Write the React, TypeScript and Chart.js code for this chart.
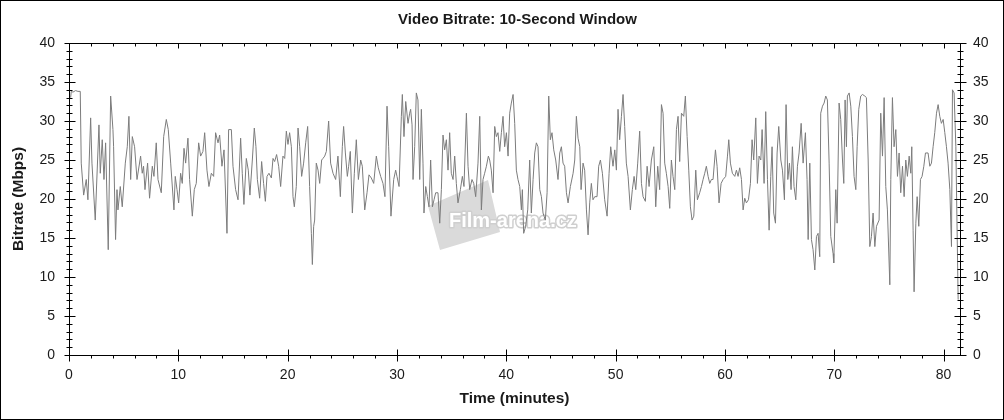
import React, { useEffect, useRef } from "react";
import { Chart, registerables } from "chart.js";

Chart.register(...registerables);

// Time (minutes) of each reading
const times: number[] = [
  0.15, 0.21, 0.36, 0.6, 0.82, 1.03, 1.12, 1.34, 1.58, 1.73, 1.98, 2.1, 2.4, 2.74, 2.86, 3.04, 3.2, 3.35, 3.59, 3.81,
  4.02, 4.08, 4.26, 4.39, 4.48, 4.69, 4.87, 5.15, 5.33, 5.48, 5.64, 5.79, 6.0, 6.22, 6.55, 6.7, 6.82, 6.95, 7.19, 7.37,
  7.62, 7.77, 7.98, 8.14, 8.44, 8.66, 8.9, 9.08, 9.3, 9.6,
  9.72, 9.88, 10.03, 10.21, 10.36, 10.52, 10.67, 10.88, 11.03, 11.28, 11.46, 11.64, 11.86, 12.04, 12.25, 12.41, 12.62,
  12.8, 13.02, 13.23, 13.41, 13.63, 13.78, 13.99, 14.18, 14.45, 14.6, 14.85, 15.0, 15.24, 15.46, 15.7, 15.85, 16.0,
  16.22, 16.4, 16.55, 16.77, 16.95, 17.1, 17.23, 17.44, 17.62, 17.8, 17.96, 18.11, 18.29, 18.51, 18.66, 18.81, 18.99,
  19.18, 19.36, 19.57,
  19.73, 19.88, 20.03, 20.18, 20.34, 20.49, 20.61, 20.79, 20.95, 21.1, 21.28, 21.46, 21.65, 21.83, 22.01, 22.17, 22.26,
  22.38, 22.47, 22.62, 22.78, 22.93, 23.11, 23.23, 23.39, 23.54, 23.75, 23.93, 24.15, 24.39, 24.6, 24.82, 25.0, 25.12,
  25.28, 25.46, 25.58, 25.73, 25.92, 26.1, 26.28, 26.47, 26.68, 26.83, 27.05, 27.26, 27.44, 27.65, 27.87, 28.11, 28.29,
  28.51, 28.72, 28.9, 29.09, 29.24, 29.45,
  29.7, 29.88, 30.0, 30.19, 30.4, 30.49, 30.64, 30.8, 31.01, 31.16, 31.25, 31.38, 31.47, 31.62, 31.77, 31.92, 32.08,
  32.23, 32.38, 32.47, 32.63, 32.78, 32.93, 33.08, 33.24, 33.39, 33.54, 33.75, 33.91, 34.06, 34.21, 34.36, 34.52, 34.67,
  34.82, 34.97, 35.13, 35.28, 35.43, 35.58, 35.8, 35.98, 36.13, 36.35, 36.5, 36.65, 36.86, 37.02, 37.2, 37.41, 37.57,
  37.72, 37.87, 38.02, 38.18, 38.36, 38.48, 38.63, 38.79, 38.94, 39.09, 39.24, 39.4, 39.55, 39.7,
  39.85, 40.01, 40.16, 40.31, 40.46, 40.62, 40.77, 40.92, 41.07, 41.23, 41.38, 41.47, 41.59, 41.77, 41.96, 42.14, 42.29,
  42.45, 42.6, 42.75, 42.9, 43.06, 43.21, 43.36, 43.57, 43.73, 43.88, 44.03, 44.18, 44.34, 44.52, 44.73, 44.89, 45.04,
  45.19, 45.34, 45.5, 45.65, 45.86, 46.11, 46.26, 46.41, 46.56, 46.72, 46.84, 47.02, 47.17, 47.33, 47.48, 47.63, 47.78,
  47.93, 48.09, 48.3, 48.45, 48.61, 48.79, 49.0, 49.22, 49.4, 49.55, 49.76,
  49.92, 50.07, 50.22, 50.37, 50.53, 50.68, 50.83, 50.98, 51.14, 51.35, 51.53, 51.69, 51.84, 52.02, 52.2, 52.36, 52.51,
  52.72, 52.88, 53.06, 53.27, 53.49, 53.67, 53.85, 54.03, 54.19, 54.34, 54.49, 54.64, 54.8, 54.95, 55.1, 55.25, 55.41,
  55.56, 55.71, 55.86, 56.02, 56.23, 56.38, 56.54, 56.69, 56.84, 56.99, 57.15, 57.33, 57.48, 57.69, 57.85, 58.0, 58.15,
  58.3, 58.46, 58.61, 58.76, 58.91, 59.13, 59.28, 59.46, 59.65, 59.83,
  60.07, 60.23, 60.35, 60.5, 60.68, 60.9, 61.05, 61.2, 61.35, 61.51, 61.66, 61.81, 61.96, 62.15, 62.33, 62.48, 62.63,
  62.82, 62.97, 63.12, 63.28, 63.4, 63.58, 63.73, 63.89, 64.04, 64.19, 64.31, 64.46, 64.62, 64.77, 64.92, 65.11, 65.26,
  65.44, 65.59, 65.75, 65.9, 66.05, 66.17, 66.32, 66.48, 66.63, 66.78, 66.97, 67.15, 67.36, 67.51, 67.61, 67.76, 67.91,
  68.06, 68.22, 68.37, 68.52, 68.67, 68.76, 68.92, 69.07, 69.22, 69.37, 69.53, 69.68, 69.89,
  69.95, 70.14, 70.26, 70.44, 70.59, 70.75, 70.87, 70.99, 71.11, 71.2, 71.36, 71.51, 71.66, 71.81, 71.97, 72.09, 72.24,
  72.42, 72.58, 72.79, 72.94, 73.1, 73.25, 73.4, 73.55, 73.71, 73.86, 74.1, 74.25, 74.41, 74.56, 74.71, 74.86, 75.08,
  75.17, 75.32, 75.47, 75.63, 75.78, 75.93, 76.08, 76.24, 76.39, 76.54, 76.69, 76.85, 77.0, 77.09, 77.21, 77.3, 77.46,
  77.58, 77.73, 77.88, 78.03, 78.19, 78.34, 78.58, 78.74, 78.89, 79.04, 79.19, 79.35, 79.5, 79.65, 79.8, 79.96, 80.11,
  80.26, 80.41, 80.57, 80.72, 80.81, 80.96, 81.12, 81.33,
];

// Video bitrate (Mbps) at each reading
const rates: number[] = [
  33.0, 33.8, 33.7, 33.9, 33.8, 33.8, 24.6, 20.5, 22.5, 19.9, 30.4, 24.6, 17.3, 29.5, 23.3, 27.6, 22.5, 27.2, 13.5, 33.2,
  28.9, 26.7, 14.8, 21.2, 18.6, 21.6, 19.0, 24.6, 26.7, 30.6, 22.5, 28.0, 26.7, 22.5, 25.5, 23.3, 24.2, 21.2, 24.6, 20.1,
  24.2, 22.9, 27.2, 22.5, 20.8, 28.0, 30.2, 28.9, 24.6, 18.6,
  22.9, 21.2, 19.5, 23.3, 22.0, 26.5, 24.6, 27.8, 22.5, 17.8, 21.2, 22.0, 27.2, 25.5, 26.1, 28.5, 23.7,
  21.6, 23.3, 22.9, 28.5, 27.2, 28.2, 24.2, 26.3, 15.6, 28.9, 28.9, 24.2, 21.2, 19.9, 27.8, 23.3, 19.3,
  25.2, 23.7, 20.5, 25.0, 29.1, 26.7, 22.5, 20.1, 24.8, 22.0, 19.7, 22.9, 23.3, 22.7, 25.2, 24.8, 25.7,
  24.2, 21.6, 25.5,
  25.2, 28.7, 27.0, 28.5, 26.7, 20.3, 19.0, 21.6, 29.1, 26.7, 22.9, 24.6, 27.2, 29.3, 21.6, 15.6, 11.6,
  16.5, 17.3, 24.6, 23.7, 22.0, 25.0, 25.2, 25.5, 26.1, 30.0, 24.6, 23.3, 22.5, 25.5, 20.3, 26.7, 29.3,
  25.9, 22.9, 24.2, 26.1, 18.2, 23.3, 27.6, 22.5, 25.0, 24.2, 18.6, 20.8, 23.1, 22.7, 22.0, 25.5, 24.0,
  22.9, 22.0, 20.3, 31.9, 26.7, 17.8,
  22.5, 23.7, 22.9, 21.6, 30.6, 33.4, 28.0, 32.5, 29.7, 31.0, 31.5, 29.5, 22.5, 26.7, 33.6, 32.7, 22.5,
  31.5, 24.6, 18.2, 21.6, 20.3, 19.0, 25.0, 19.0, 19.9, 20.8, 20.8, 16.9, 21.2, 28.2, 26.3, 27.6, 23.7,
  28.5, 23.3, 22.5, 25.5, 22.0, 19.5, 21.2, 22.9, 21.6, 31.0, 24.2, 21.2, 22.5, 22.0, 20.3, 24.6, 30.6,
  18.6, 22.5, 23.3, 24.2, 25.5, 25.0, 23.7, 20.8, 29.3, 28.0, 28.5, 26.1, 28.5, 30.6,
  26.7, 28.5, 25.5, 31.0, 32.3, 33.4, 29.7, 23.7, 22.5, 21.6, 18.6, 21.2, 15.6, 16.5, 18.6, 25.0, 18.2,
  22.5, 25.9, 27.2, 26.7, 21.2, 20.3, 18.2, 17.3, 20.8, 33.2, 27.6, 28.5, 26.3, 25.0, 22.5, 25.9, 26.7,
  24.6, 24.2, 20.8, 19.5, 21.6, 23.3, 25.0, 30.6, 27.8, 26.7, 21.2, 24.6, 23.7, 18.6, 15.4, 19.5, 22.0,
  19.9, 20.3, 20.3, 24.2, 25.0, 23.3, 19.9, 17.8, 23.3, 26.7, 24.2,
  26.3, 23.7, 31.5, 27.6, 30.6, 33.4, 29.3, 24.6, 22.9, 18.6, 21.2, 22.9, 21.2, 24.6, 28.7, 22.0, 20.3,
  19.7, 24.2, 21.6, 25.0, 26.7, 19.0, 24.2, 21.2, 32.1, 31.0, 24.6, 23.3, 21.6, 18.8, 25.0, 22.9, 21.2,
  28.9, 30.6, 24.8, 31.0, 30.6, 33.2, 28.0, 23.7, 19.0, 17.3, 17.8, 23.7, 19.9, 20.8, 21.6, 22.5, 23.3,
  24.2, 22.9, 22.0, 22.5, 22.5, 26.3, 24.2, 19.5, 22.0, 22.5,
  22.9, 25.5, 27.6, 24.6, 23.3, 22.9, 23.7, 22.9, 24.0, 22.5, 18.6, 20.1, 19.5, 19.9, 22.0, 27.6, 25.0,
  30.4, 22.0, 25.5, 25.0, 28.9, 22.0, 31.2, 22.5, 16.0, 22.9, 26.7, 18.2, 16.9, 25.9, 29.3, 25.0, 23.7,
  19.9, 32.1, 22.5, 24.6, 21.2, 26.7, 21.6, 19.9, 24.2, 25.9, 29.7, 24.6, 28.5, 22.5, 14.8, 24.6, 14.8,
  13.5, 10.9, 15.2, 15.6, 12.6, 31.0, 31.9, 32.3, 33.2, 32.7, 24.6, 15.2, 13.0,
  11.8, 21.2, 16.9, 32.3, 30.2, 25.0, 22.0, 32.7, 26.7, 33.2, 33.6, 31.9, 28.0, 22.9, 21.2, 26.7, 31.5,
  33.2, 33.4, 33.2, 33.0, 25.0, 13.9, 15.2, 18.2, 13.9, 16.5, 17.3, 31.0, 25.5, 33.0, 21.6, 18.6, 9.0,
  22.5, 33.0, 26.7, 28.9, 22.9, 25.9, 20.8, 24.2, 20.3, 25.0, 22.9, 25.5, 23.3, 26.7, 16.0, 8.1, 16.9,
  20.3, 16.5, 22.5, 22.9, 24.2, 25.9, 25.9, 24.2, 24.6, 26.7, 28.5, 31.0, 32.1, 30.6, 29.7, 30.2, 28.5,
  26.7, 24.6, 21.2, 13.9, 34.0, 33.6, 26.7, 7.1,
];

const xTicks: number[] = [0, 10, 20, 30, 40, 50, 60, 70, 80];
const yTicks: number[] = [0, 5, 10, 15, 20, 25, 30, 35, 40];

const FONT = "'Liberation Sans', Arial, sans-serif";
const TEXT = "#1a1a1a";

const framePlugin = {
  id: "frame",
  beforeDatasetsDraw(chart: any) {
    const { ctx } = chart;
    // watermark
    ctx.save();
    ctx.fillStyle = "#dadada";
    ctx.beginPath();
    ctx.moveTo(427, 205);
    ctx.lineTo(487, 179);
    ctx.lineTo(499, 231);
    ctx.lineTo(439, 249);
    ctx.closePath();
    ctx.fill();
    ctx.font = `bold 20px ${FONT}`;
    ctx.textAlign = "left";
    ctx.textBaseline = "alphabetic";
    ctx.lineWidth = 3;
    ctx.strokeStyle = "#cfcfcf";
    ctx.lineJoin = "round";
    ctx.strokeText("Film-arena.cz", 448, 226);
    ctx.fillStyle = "#ffffff";
    ctx.fillText("Film-arena.cz", 448, 226);
    ctx.restore();
  },
  afterDraw(chart: any) {
    const { ctx, chartArea } = chart;
    const xs = chart.scales.x;
    const ys = chart.scales.y;
    const L = Math.round(chartArea.left) + 0.5;
    const R = Math.round(chartArea.right) + 0.5;
    const T = Math.round(chartArea.top) + 0.5;
    const B = Math.round(chartArea.bottom) + 0.5;
    ctx.save();
    ctx.strokeStyle = "#000";
    ctx.lineWidth = 1;
    ctx.beginPath();
    ctx.rect(L, T, R - L, B - T);
    ctx.stroke();
    ctx.beginPath();
    for (let v = 0; v <= 40; v += 1) {
      const y = Math.round(ys.getPixelForValue(v)) + 0.5;
      const major = v % 5 === 0;
      if (major) {
        ctx.moveTo(L - 5, y); ctx.lineTo(L + 6, y);
        ctx.moveTo(R - 6, y); ctx.lineTo(R + 6, y);
      } else {
        ctx.moveTo(L - 3, y); ctx.lineTo(L + 3, y);
        ctx.moveTo(R - 3, y); ctx.lineTo(R + 3, y);
      }
    }
    for (let t = 0; t <= 80; t += 2) {
      const x = Math.round(xs.getPixelForValue(t)) + 0.5;
      const major = t % 10 === 0;
      if (major) {
        ctx.moveTo(x, B - 6); ctx.lineTo(x, B + 6);
        ctx.moveTo(x, T); ctx.lineTo(x, T + 5);
      } else {
        ctx.moveTo(x, B); ctx.lineTo(x, B + 3);
        ctx.moveTo(x, T); ctx.lineTo(x, T + 3);
      }
    }
    ctx.stroke();
    // title centred over the plot area
    ctx.fillStyle = TEXT;
    ctx.font = `bold 15px ${FONT}`;
    ctx.textAlign = "center";
    ctx.textBaseline = "middle";
    ctx.fillText("Video Bitrate: 10-Second Window", (chartArea.left + chartArea.right) / 2 + 3, 19);
    ctx.restore();
  },
};

export default function App() {
  const ref = useRef<HTMLCanvasElement>(null);
  useEffect(() => {
    if (!ref.current) return;
    const tickFont = { family: FONT, size: 14 };
    const titleFont = { family: FONT, size: 15.5, weight: "bold" as const };
    const chart = new Chart(ref.current, {
      type: "line",
      data: {
        datasets: [
          {
            data: times.map((t, i) => ({ x: t, y: rates[i] })),
            borderColor: "#7c7c7c",
            borderWidth: 1,
            pointRadius: 0,
            tension: 0,
            fill: false,
          },
        ],
      },
      options: {
        responsive: false,
        animation: false,
        devicePixelRatio: 1,
        layout: { padding: { top: 42, left: 0, right: 0, bottom: 0 } },
        plugins: { legend: { display: false }, title: { display: false }, tooltip: { enabled: false } },
        scales: {
          x: {
            type: "linear",
            min: 0,
            max: 81.5,
            afterBuildTicks: (s: any) => { s.ticks = xTicks.map((v) => ({ value: v })); },
            afterFit: (s: any) => { s.height = 64; },
            grid: { display: false, drawTicks: false },
            border: { display: false },
            ticks: { padding: 12, font: tickFont, color: TEXT, maxRotation: 0, autoSkip: false },
            title: { display: true, text: "Time (minutes)", font: titleFont, color: TEXT, padding: { top: 0, bottom: 11 } },
          },
          y: {
            type: "linear",
            position: "left",
            min: 0,
            max: 40,
            afterBuildTicks: (s: any) => { s.ticks = yTicks.map((v) => ({ value: v })); },
            afterFit: (s: any) => { s.width = 68; },
            grid: { display: false, drawTicks: false },
            border: { display: false },
            ticks: { padding: 14, font: tickFont, color: TEXT },
            title: { display: true, text: "Bitrate (Mbps)", font: titleFont, color: TEXT, padding: { top: 8, bottom: 0 } },
          },
          y2: {
            type: "linear",
            position: "right",
            min: 0,
            max: 40,
            afterBuildTicks: (s: any) => { s.ticks = yTicks.map((v) => ({ value: v })); },
            afterFit: (s: any) => { s.width = 43; },
            grid: { display: false, drawTicks: false },
            border: { display: false },
            ticks: { padding: 13, font: tickFont, color: TEXT },
          },
        },
      },
      plugins: [framePlugin],
    });
    return () => chart.destroy();
  }, []);
  return (
    <div
      style={{
        position: "absolute",
        left: 0,
        top: 0,
        width: 1004,
        height: 420,
        boxSizing: "border-box",
        border: "1px solid #000",
        background: "#fff",
      }}
    >
      <canvas ref={ref} width={1002} height={418} style={{ width: 1002, height: 418, display: "block" }} />
    </div>
  );
}
